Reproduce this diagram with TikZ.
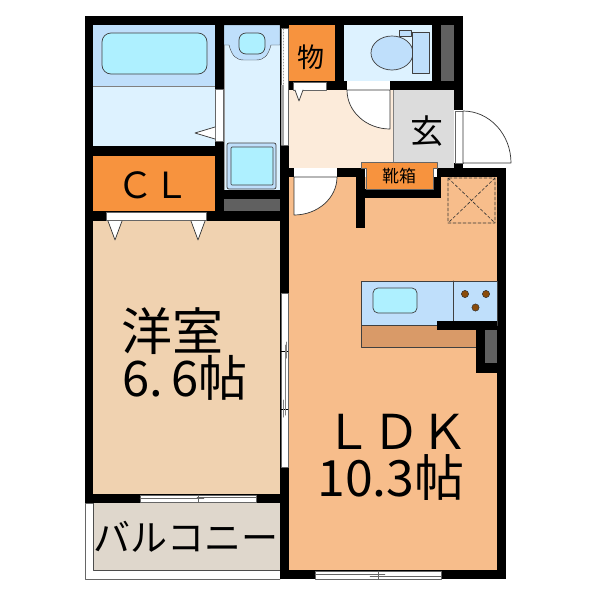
\documentclass[tikz,border=0pt]{standalone}
\usepackage{fontspec}
\setmainfont{Noto Sans CJK JP}
\definecolor{wetc}{HTML}{DDF2FF}
\definecolor{bandc}{HTML}{BFDFFB}
\definecolor{waterc}{HTML}{AEF0FF}
\definecolor{closetc}{HTML}{F7933E}
\definecolor{westc}{HTML}{F0D2B0}
\definecolor{ldkc}{HTML}{F7BD8B}
\definecolor{hallc}{HTML}{FCEBDA}
\definecolor{entryc}{HTML}{DCDCDC}
\definecolor{balc}{HTML}{DFD7CC}
\definecolor{shaftc}{HTML}{606060}
\definecolor{benchc}{HTML}{D99A68}
\definecolor{burnerc}{HTML}{8A4B0A}
\begin{document}
\begin{tikzpicture}[x=1pt,y=1pt,yscale=-1,line join=round,line cap=round,
  fix/.style={draw=black!75,line width=0.7pt},
  door/.style={draw=black!80,fill=white,line width=0.7pt},
  opening/.style={fill=white,draw=black!60,line width=0.5pt},
  label/.style={inner sep=0pt,text=black}]
\useasboundingbox (0,0) rectangle (600,600);
\fill[white] (0,0) rectangle (600,600);
% rooms
\fill[wetc] (93,86) rectangle (215,146);
\fill[bandc] (93,25) rectangle (215,86);
\draw[black!50] (93,86)--(215,86);
\fill[closetc] (93,156) rectangle (215,211);
\fill[westc] (93,221) rectangle (280,494);
\fill[wetc] (224,25) rectangle (280,190);
\draw[black!40] (224,25) rectangle (280,190);
\fill[closetc] (289,25) rectangle (335,81);
\fill[wetc] (344,25) rectangle (432,81);
\fill[hallc] (289,90) rectangle (393,168);
\fill[entryc] (393,90) rectangle (454,168);
\draw[black!50] (393,90)--(393,168);
\fill[ldkc] (289,177) rectangle (497,570);
\draw[black!60,fill=white] (280,503)--(85,503)--(85,579)--(280,579);
\fill[balc] (93,503) rectangle (280,570);
\draw[black!70] (93,503)--(93,570)--(280,570);
\fill[shaftc] (224,199) rectangle (280,211);
\fill[shaftc] (441,25) rectangle (454,81);
% bath and wash room
\draw[fix,fill=waterc,rounded corners=9pt] (102,33) rectangle (207,74);
\draw[fix,fill=bandc,line width=0.4pt] (224,25)--(280,25)--(280,45)--(271,45)..controls (268,56) and (264,60) .. (256,60)--(244,60)..controls (236,60) and (232,56) .. (229,45)--(224,45)--cycle;
\draw[fix,fill=waterc,rounded corners=7pt] (239,33) rectangle (265,54);
\draw[fix,fill=bandc,rounded corners=2pt] (227,143) rectangle (276,189);
\draw[fix,fill=waterc,rounded corners=1pt] (231,147) rectangle (273,185);
% toilet
\draw[fix,fill=bandc] (392,53) ellipse (21 and 17);
\draw[fix,fill=bandc] (412,32) rectangle (429,73);
\draw[fix,fill=bandc] (399,30) rectangle (411,36);
% walls
\foreach \xa/\ya/\xb/\yb in {85/16/463/25, 85/16/93/503, 93/146/215/156, 93/211/289/221,
  215/25/224/221, 224/190/280/199, 280/16/289/579, 289/81/463/90, 335/25/344/81,
  432/25/441/81, 454/25/463/110, 454/163/463/168, 437/168/506/177, 497/168/506/579,
  289/168/361/177, 356/168/365/228, 365/189/441/198, 433/177/441/198, 85/494/289/503,
  280/570/506/579}
  \fill[black] (\xa,\ya) rectangle (\xb,\yb);
% closet doors
\draw[opening] (106,212) rectangle (206,220);
\draw[door] (108,221)--(115,240)--(122,221);
\draw[door] (191,221)--(198,240)--(205,221);
\draw[opening] (293,82) rectangle (326,90);
\draw[door] (295,90)--(299,101)--(303,90);
% bath door
\draw[opening] (215,89) rectangle (223,141);
\draw[door] (215,127)--(195,133)--(215,139);
% sliding door beside the wash room
\draw[opening] (281,28) rectangle (288,145);
\draw[white!60!black,dotted,line width=1pt] (283,29)--(283,85);
\fill[white!65!black] (281,85) rectangle (284,145);
% room doors
\fill[white] (347,81) rectangle (390,90);
\draw[door] (390,90)--(390,129) arc[start angle=90,end angle=180,x radius=43,y radius=39]--cycle;
\fill[white] (294,168) rectangle (337,177);
\draw[door] (294,177)--(294,215) arc[start angle=90,end angle=0,x radius=43,y radius=38]--cycle;
\draw[opening] (455,111) rectangle (463,163);
\draw[door] (463,163)--(463,111) arc[start angle=-90,end angle=0,x radius=48,y radius=52]--cycle;
% shoe box
\draw[black!60,fill=closetc,line width=0.4pt] (361,168)--(361,162)--(437,162)--(437,168)--(433,168)--(433,189)--(366,189)--(366,168)--cycle;
% hatch
\draw[densely dashed,line width=0.6pt,black!80] (448,178) rectangle (495,223) (448,178)--(495,223) (495,178)--(448,223);
% kitchen
\draw[fix,fill=benchc] (361,325) rectangle (476,347);
\draw[fix,fill=bandc] (361,281) rectangle (497,325);
\draw[fix] (453,281)--(453,322);
\draw[fix,fill=waterc,rounded corners=5pt] (373,288) rectangle (417,313);
\foreach \xa/\ya in {465/294, 486/294, 475.5/307.5}
  \draw[black!80,fill=burnerc,line width=0.5pt] (\xa,\ya) circle (3.6);
\fill[black] (437,321) rectangle (497,330);
\fill[black] (476,321) rectangle (497,373);
\fill[shaftc] (485,330) rectangle (497,363);
% windows
\draw[opening] (281,293) rectangle (288,467);
\draw[black] (281,351)--(288,351) (281,409)--(288,409);
\draw[black!50,line width=1pt] (285,345)--(285,415) (283,400)--(283,417) (286,342)--(286,358);
\draw[opening] (140,495) rectangle (256,502);
\draw[black!60] (140,498.5)--(204,498.5) (197,497)--(256,497) (198,495)--(198,502);
\draw[opening] (315,571) rectangle (441,579);
\draw[black!60] (315,574)--(385,574) (370,576)--(441,576) (378,571)--(378,579);
% labels
\node[label,font=\fontsize{36}{36}\selectfont] (cl) at (153,185) {ＣＬ};
\node[label,font=\fontsize{27}{27}\selectfont] (mono) at (311,57) {物};
\node[label,font=\fontsize{33}{33}\selectfont] (genkan) at (427,131) {玄};
\node[label,font=\fontsize{17}{17}\selectfont] (shoes) at (399,176) {靴箱};
\node[label,font=\fontsize{51}{51}\selectfont] (west) at (172,331) {洋室};
\node[label,font=\fontsize{49}{49}\selectfont] (westsize) at (185,378) {6.\,6帖};
\node[label,font=\fontsize{48}{48}\selectfont] (ldk) at (396,432) {ＬＤＫ};
\node[label,font=\fontsize{50}{50}\selectfont] (ldksize) at (391,478) {10.3帖};
\node[label,font=\fontsize{37}{37}\selectfont] (balcony) at (186,537) {バルコニー};
\end{tikzpicture}
\end{document}
